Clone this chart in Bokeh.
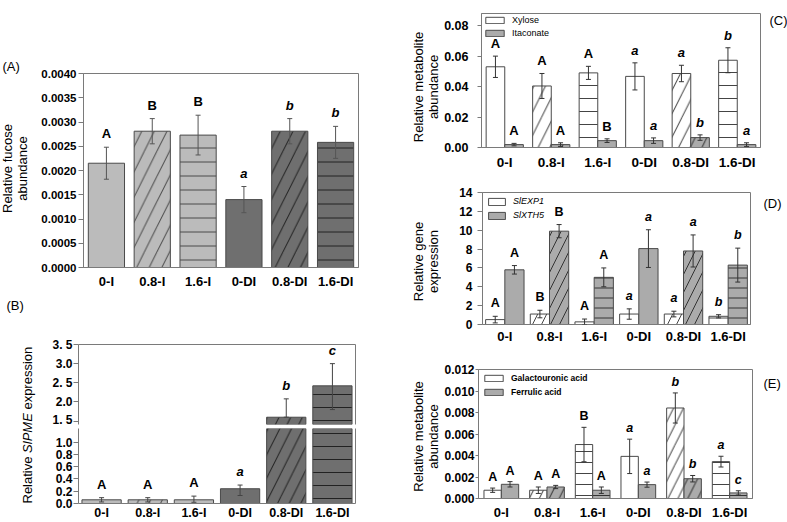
import numpy as np
from bokeh.plotting import figure
from bokeh.models import (Range1d, FixedTicker, SingleIntervalTicker, NumeralTickFormatter,
                          Whisker, TeeHead, ColumnDataSource, Label, LinearAxis, Legend, LegendItem)
from bokeh.layouts import row, column
from bokeh.embed import file_html
from bokeh.resources import INLINE
from bokeh.core.properties import value

# ---------------- data ----------------
categories = ["0-I", "0.8-I", "1.6-I", "0-DI", "0.8-DI", "1.6-DI"]

# (A) relative fucose abundance
fucose = [0.00215, 0.00281, 0.00273, 0.00140, 0.00281, 0.00258]
fucose_err = [0.00033, 0.00026, 0.00041, 0.00027, 0.00026, 0.00033]
fucose_letters = ["A", "B", "B", "a", "b", "b"]

# (B) relative SlPME expression (broken axis)
pme = [0.06, 0.06, 0.06, 0.24, 1.60, 2.42]
pme_err_hi = [0.035, 0.035, 0.06, 0.06, 0.48, 0.58]
pme_err_lo = [0.035, 0.035, 0.04, 0.11, 0.0, 0.62]
pme_letters = ["A", "A", "A", "a", "b", "c"]
pme_upper_ticks = [1.5, 2.0, 2.5, 3.0, 3.5]
pme_upper_tick_labels = ["1. 5", "2.0", "2. 5", "3.0", "3. 5"]
pme_lower_ticks = [0.0, 0.2, 0.4, 0.6, 0.8, 1.0]
pme_lower_tick_labels = ["0.0", "0.2", "0.4", "0.6", "0.8", "1.0"]

# (C) xylose / itaconate
xylose = [0.0530, 0.0404, 0.0490, 0.0467, 0.0486, 0.0573]
xylose_err = [0.0070, 0.0082, 0.0043, 0.0089, 0.0054, 0.0082]
xylose_letters = ["A", "A", "A", "a", "a", "b"]
itaconate = [0.0019, 0.0019, 0.0045, 0.0045, 0.0065, 0.0019]
itaconate_err = [0.0008, 0.0012, 0.0012, 0.0018, 0.0018, 0.0012]
itaconate_letters = ["A", "A", "B", "a", "b", "a"]

# (D) SlEXP1 / SlXTH5
exp1 = [0.52, 1.11, 0.28, 1.11, 1.11, 0.87]
exp1_err = [0.35, 0.40, 0.30, 0.55, 0.30, 0.17]
exp1_letters = ["A", "B", "A", "a", "a", "b"]
xth5 = [5.8, 9.9, 5.0, 8.05, 7.8, 6.3]
xth5_err = [0.45, 0.7, 1.0, 2.0, 1.7, 1.8]
xth5_letters = ["A", "B", "A", "a", "a", "b"]

# (E) galactouronic / ferrulic acid
galact = [0.00077, 0.00077, 0.00502, 0.00392, 0.00842, 0.00343]
galact_err = [0.00020, 0.00030, 0.00160, 0.00160, 0.00140, 0.00050]
galact_letters = ["A", "A", "B", "a", "b", "a"]
ferul = [0.00132, 0.00107, 0.00077, 0.00129, 0.00184, 0.00052]
ferul_err = [0.00025, 0.00015, 0.00030, 0.00024, 0.00030, 0.00020]
ferul_letters = ["A", "A", "A", "a", "b", "c"]

# ---------------- styles ----------------
FONT = "Liberation Sans"
LIGHT = "#bbbbbb"
DARK = "#6f6f6f"
GRAY = "#ababab"
WHITE = "#ffffff"
AXC = "#7a7a7a"
EDGE = "#4a4a4a"
HATCHES = ["blank", "right_diagonal_line", "horizontal_line",
           "blank", "right_diagonal_line", "horizontal_line"]
DIAG_FACTOR = 1.8   # diagonal hatch drawn sparser than horizontal
XR = (-0.5, 5.5)


def make_fig(w, h, yr, mb, xaxis="below", outline=True, tick_fs="12px", x_fs="13px",
             x_stand=5, y_stand=3, tick_out=5):
    l, r, t, b = mb
    p = figure(width=w, height=h, x_range=Range1d(*XR), y_range=Range1d(*yr),
               output_backend="svg", toolbar_location=None, x_axis_location=xaxis,
               min_border_left=l, min_border_right=r, min_border_top=t, min_border_bottom=b)
    p.grid.visible = False
    p.outline_line_color = AXC if outline else None
    p.background_fill_color = "white"
    p.border_fill_color = "white"
    if xaxis is not None:
        ax = p.xaxis[0]
        ax.major_tick_line_color = None
        ax.minor_tick_line_color = None
        ax.major_tick_out = 0
        ax.major_tick_in = 0
        ax.axis_label_standoff = 0
        ax.axis_line_color = AXC
        if xaxis == "below":
            ax.ticker = FixedTicker(ticks=list(range(len(categories))))
            ax.major_label_overrides = {i: c for i, c in enumerate(categories)}
            ax.major_label_text_font = FONT
            ax.major_label_text_font_style = "bold"
            ax.major_label_text_font_size = x_fs
            ax.major_label_text_color = "black"
            ax.major_label_standoff = x_stand
        else:
            ax.ticker = FixedTicker(ticks=[])
            ax.major_label_text_font_size = "0px"
            ax.major_label_standoff = 0
    ya = p.yaxis[0]
    ya.minor_tick_line_color = None
    ya.major_tick_out = tick_out
    ya.major_tick_in = 0
    ya.major_tick_line_color = AXC
    ya.axis_line_color = AXC
    ya.major_label_text_font = FONT
    ya.major_label_text_font_style = "bold"
    ya.major_label_text_font_size = tick_fs
    ya.major_label_text_color = "black"
    ya.major_label_standoff = y_stand
    return p


def line_axis(p, side):
    ax = LinearAxis(ticker=FixedTicker(ticks=[]), axis_line_color=AXC,
                    major_tick_line_color=None, minor_tick_line_color=None,
                    major_tick_out=0, major_tick_in=0, major_label_standoff=0,
                    major_label_text_font_size="0px")
    p.add_layout(ax, side)


def bars(p, xs, tops, width, colors, hatch_colors, hatch_scale, hatches=HATCHES):
    hatches = list(hatches)
    scales = [hatch_scale * (DIAG_FACTOR if h == "right_diagonal_line" else 1.0)
              for h in hatches]
    src = ColumnDataSource(dict(x=list(xs), top=list(tops), color=list(colors),
                                hatch=hatches, hc=list(hatch_colors), hs=scales))
    return p.vbar(x="x", top="top", bottom=0, width=width, source=src,
                  fill_color="color", line_color=EDGE, line_width=1,
                  hatch_pattern="hatch", hatch_color="hc", hatch_scale="hs",
                  hatch_weight=1)


def errs(p, xs, vals, lo, hi, color="#444444", size=5):
    vals = np.asarray(vals, float)
    src = ColumnDataSource(dict(x=list(xs), upper=list(vals + np.asarray(hi, float)),
                                lower=list(vals - np.asarray(lo, float))))
    w = Whisker(source=src, base="x", upper="upper", lower="lower", line_color=color,
                line_width=1, level="annotation",
                upper_head=TeeHead(size=size, line_color=color, line_width=1),
                lower_head=TeeHead(size=size, line_color=color, line_width=1))
    p.add_layout(w)


def letters(p, xs, tops, labs, size="13px", off=6):
    labs = list(labs)
    styles = ["bold italic" if s.islower() else "bold" for s in labs]
    src = ColumnDataSource(dict(x=list(xs), y=list(tops), t=labs, style=styles))
    p.text(x="x", y="y", text="t", source=src, text_font=value(FONT),
           text_font_style="style", text_font_size=size, text_align="center",
           text_baseline="bottom", y_offset=-off, text_color="black")


def add_legend(p, items, style, fs, gw, gh, margin, padding, spacing):
    lg = Legend(items=items, location="top_left", border_line_color=None,
                background_fill_alpha=0, margin=margin, padding=padding, spacing=spacing,
                glyph_width=gw, glyph_height=gh, label_height=gh, label_standoff=6,
                label_text_font=FONT, label_text_font_size=fs, label_text_font_style=style,
                label_text_color="black")
    p.add_layout(lg)


def strip(w, h, top=0, bottom=0):
    # a blank panel; in a row its frame lines up with its neighbour's frame,
    # so its y range is set so that data y == pixels above the canvas bottom
    s = figure(width=w, height=h, x_range=Range1d(0, w), y_range=Range1d(bottom, h - top),
               output_backend="svg", toolbar_location=None, x_axis_location=None,
               y_axis_location=None, min_border_left=0, min_border_right=0,
               min_border_top=top, min_border_bottom=bottom)
    s.outline_line_color = None
    s.grid.visible = False
    s.background_fill_color = "white"
    s.border_fill_color = "white"
    return s


def stext(s, h, x, y_top, text, size="13px", style="normal", angle=0.0,
          align="left", baseline="middle"):
    s.add_layout(Label(x=x, y=h - y_top, text=text, angle=angle, text_font=FONT,
                       text_font_size=size, text_font_style=style, text_align=align,
                       text_baseline=baseline, text_color="black"))


def panel_title(p, text, offset):
    p.title.text = text
    p.title.align = "left"
    p.title.offset = offset
    p.title.standoff = 0
    p.title.vertical_align = "bottom"
    p.title.text_font = FONT
    p.title.text_font_size = "13px"
    p.title.text_font_style = "normal"
    p.title.text_color = "black"


idx = np.arange(len(categories))
two_tone = [LIGHT] * 3 + [DARK] * 3
two_tone_hatch = ["#4a4a4a"] * 3 + ["#222222"] * 3
ROT = np.pi / 2

# ======================= LEFT COLUMN (x 0-400) =======================
# ---------------- (A) block: y 0-296 ----------------
A_yr = (0, 0.004)
A_mb = (47, 42, 73, 29)
sA = strip(36, 296, top=A_mb[2], bottom=A_mb[3])
panel_title(sA, "(A)", 2)
stext(sA, 296, 7, 168, "Relative fucose", angle=ROT, align="center")
stext(sA, 296, 22, 168, "abundance", angle=ROT, align="center")

pa = make_fig(364, 296, A_yr, A_mb, tick_fs="11.5px", x_fs="13px", x_stand=6, y_stand=2)
pa.yaxis[0].ticker = SingleIntervalTicker(interval=0.0005, num_minor_ticks=0)
pa.yaxis[0].formatter = NumeralTickFormatter(format="0.0000")
bars(pa, idx, fucose, 0.79, two_tone, two_tone_hatch, 14)
errs(pa, idx, fucose, fucose_err, fucose_err, "#555555", 5)
letters(pa, idx, np.array(fucose) + np.array(fucose_err), fucose_letters, "13px", 6)

# ---------------- (B) block: y 296-522 ----------------
BT_yr = (1.41, 3.5)
BB_yr = (0, 1.22)
sB = strip(40, 226)
stext(sB, 226, 6, 9, "(B)")
CW = {"R": 722, "e": 556, "l": 222, "a": 556, "t": 278, "i": 222, "v": 500, " ": 278,
      "S": 667, "P": 667, "M": 833, "E": 667, "x": 500, "p": 556, "r": 333, "s": 500,
      "o": 556, "n": 556}


def tw(s, fs=13):
    return sum(CW.get(c, 556) for c in s) * fs / 1000.0


ypos = 226 - 19  # "Relative" starts at page y 503
for piece, sty in (("Relative", "normal"), ("SlPME", "italic"), ("expression", "normal")):
    stext(sB, 226, 27, ypos, piece, style=sty, angle=ROT, align="left")
    ypos -= tw(piece + " ")

pbt = make_fig(360, 130, BT_yr, (38, 45, 48, 2), xaxis="above", outline=False,
               tick_fs="12px", y_stand=1)
pbt.yaxis[0].ticker = FixedTicker(ticks=pme_upper_ticks)
pbt.yaxis[0].major_label_overrides = dict(zip(pme_upper_ticks, pme_upper_tick_labels))
line_axis(pbt, "right")
pbb = make_fig(360, 96, BB_yr, (38, 45, 2, 18), xaxis="below", outline=False,
               tick_fs="12px", x_fs="12.5px", x_stand=2, y_stand=1)
pbb.yaxis[0].ticker = FixedTicker(ticks=pme_lower_ticks)
pbb.yaxis[0].major_label_overrides = dict(zip(pme_lower_ticks, pme_lower_tick_labels))
line_axis(pbb, "right")

pme_a = np.array(pme)
pme_hi_a = np.array(pme_err_hi)
pme_lo_a = np.array(pme_err_lo)
pme_top = pme_a + pme_hi_a
in_up = pme_a > BT_yr[0]          # bars reaching into the upper segment
lab_low = pme_top < BB_yr[1]      # letters/error bars shown in the lower segment
lab_up = ~lab_low
hatch_arr = np.array(HATCHES)
tone_arr = np.array(two_tone)
tone_h_arr = np.array(two_tone_hatch)

bars(pbb, idx, pme_a, 0.85, two_tone, two_tone_hatch, 13)
errs(pbb, idx[lab_low], pme_a[lab_low], pme_lo_a[lab_low], pme_hi_a[lab_low], "#444444", 5)
letters(pbb, idx[lab_low], pme_top[lab_low], np.array(pme_letters)[lab_low], "13px", 6)

bars(pbt, idx[in_up], pme_a[in_up], 0.85, tone_arr[in_up], tone_h_arr[in_up], 13,
     hatches=hatch_arr[in_up])
errs(pbt, idx[lab_up], pme_a[lab_up], pme_lo_a[lab_up], pme_hi_a[lab_up], "#444444", 5)
letters(pbt, idx[lab_up], pme_top[lab_up], np.array(pme_letters)[lab_up], "13px", 6)

left = column(row(sA, pa), row(sB, column(pbt, pbb)))

# ======================= RIGHT COLUMN (x 400-787) =======================
# ---------------- (C) block: y 0-172 ----------------
C_yr = (0, 0.088)
C_mb = (39, 3, 13, 24)
sCL = strip(41, 172, top=C_mb[2], bottom=C_mb[3])
stext(sCL, 172, 18, 87, "Relative metabolite", angle=ROT, align="center")
stext(sCL, 172, 33, 87, "abundance", angle=ROT, align="center")
sCR = strip(24, 172, top=C_mb[2], bottom=C_mb[3])
stext(sCR, 172, 6, 20, "(C)")

pc = make_fig(322, 172, C_yr, C_mb, tick_fs="12.5px", x_fs="13.5px",
              x_stand=7, y_stand=9, tick_out=4)
pc.yaxis[0].ticker = SingleIntervalTicker(interval=0.02, num_minor_ticks=0)
pc.yaxis[0].formatter = NumeralTickFormatter(format="0.00")
r1 = bars(pc, idx - 0.2, xylose, 0.4, [WHITE] * 6, ["#444444"] * 6, 13)
r2 = bars(pc, idx + 0.2, itaconate, 0.4, [GRAY] * 6, ["#333333"] * 6, 13)
errs(pc, idx - 0.2, xylose, xylose_err, xylose_err, "#333333", 5)
errs(pc, idx + 0.2, itaconate, itaconate_err, itaconate_err, "#333333", 5)
letters(pc, idx - 0.2, np.array(xylose) + np.array(xylose_err), xylose_letters, "13px", 5)
letters(pc, idx + 0.2, np.array(itaconate) + np.array(itaconate_err), itaconate_letters, "13px", 5)
add_legend(pc, [LegendItem(label="Xylose", renderers=[r1], index=0),
                LegendItem(label="Itaconate", renderers=[r2], index=0)],
           "normal", "9px", 23, 8, 2, 3, 3)

# ---------------- (D) block: y 172-346 ----------------
D_yr = (0, 14)
D_mb = (41, 13, 20, 20)
sDL = strip(41, 174, top=D_mb[2], bottom=D_mb[3])
stext(sDL, 174, 18, 90, "Relative gene", angle=ROT, align="center")
stext(sDL, 174, 33, 90, "expression", angle=ROT, align="center")
sDR = strip(24, 174, top=D_mb[2], bottom=D_mb[3])
stext(sDR, 174, 0, 31, "(D)")

pd_ = make_fig(322, 174, D_yr, D_mb, tick_fs="12px", x_fs="13px", x_stand=4, y_stand=5)
pd_.yaxis[0].ticker = SingleIntervalTicker(interval=2, num_minor_ticks=0)
r3 = bars(pd_, idx - 0.215, exp1, 0.43, [WHITE] * 6, ["#444444"] * 6, 10)
r4 = bars(pd_, idx + 0.215, xth5, 0.43, [GRAY] * 6, ["#333333"] * 6, 10)
errs(pd_, idx - 0.215, exp1, exp1_err, exp1_err, "#333333", 5)
errs(pd_, idx + 0.215, xth5, xth5_err, xth5_err, "#333333", 5)
letters(pd_, idx - 0.215, np.array(exp1) + np.array(exp1_err), exp1_letters, "12.5px", 6)
letters(pd_, idx + 0.215, np.array(xth5) + np.array(xth5_err), xth5_letters, "12.5px", 6)
add_legend(pd_, [LegendItem(label="SlEXP1", renderers=[r3], index=0),
                 LegendItem(label="SlXTH5", renderers=[r4], index=0)],
           "italic", "9px", 21, 9, 4, 4, 4)

# ---------------- (E) block: y 346-522 ----------------
E_yr = (0, 0.012)
E_mb = (37, 11, 23, 22)
sEL = strip(41, 176, top=E_mb[2], bottom=E_mb[3])
stext(sEL, 176, 18, 91, "Relative metabolite", angle=ROT, align="center")
stext(sEL, 176, 33, 91, "abundance", angle=ROT, align="center")
sER = strip(24, 176, top=E_mb[2], bottom=E_mb[3])
stext(sER, 176, 0, 37, "(E)")

pe = make_fig(322, 176, E_yr, E_mb, tick_fs="12px", x_fs="13px",
              x_stand=6, y_stand=1, tick_out=3)
pe.yaxis[0].ticker = SingleIntervalTicker(interval=0.002, num_minor_ticks=0)
pe.yaxis[0].formatter = NumeralTickFormatter(format="0.000")
r5 = bars(pe, idx - 0.19, galact, 0.38, [WHITE] * 6, ["#444444"] * 6, 11)
r6 = bars(pe, idx + 0.19, ferul, 0.38, [GRAY] * 6, ["#333333"] * 6, 11)
errs(pe, idx - 0.19, galact, galact_err, galact_err, "#333333", 5)
errs(pe, idx + 0.19, ferul, ferul_err, ferul_err, "#333333", 5)
letters(pe, idx - 0.19, np.array(galact) + np.array(galact_err), galact_letters, "12.5px", 4)
letters(pe, idx + 0.19, np.array(ferul) + np.array(ferul_err), ferul_letters, "12.5px", 4)
add_legend(pe, [LegendItem(label="Galactouronic acid", renderers=[r5], index=0),
                LegendItem(label="Ferrulic acid", renderers=[r6], index=0)],
           "bold", "8.5px", 23, 8, 4, 4, 4)

right = column(row(sCL, pc, sCR), row(sDL, pd_, sDR), row(sEL, pe, sER))

layout = row(left, right)
open("out.html", "w").write(file_html(layout, INLINE))
